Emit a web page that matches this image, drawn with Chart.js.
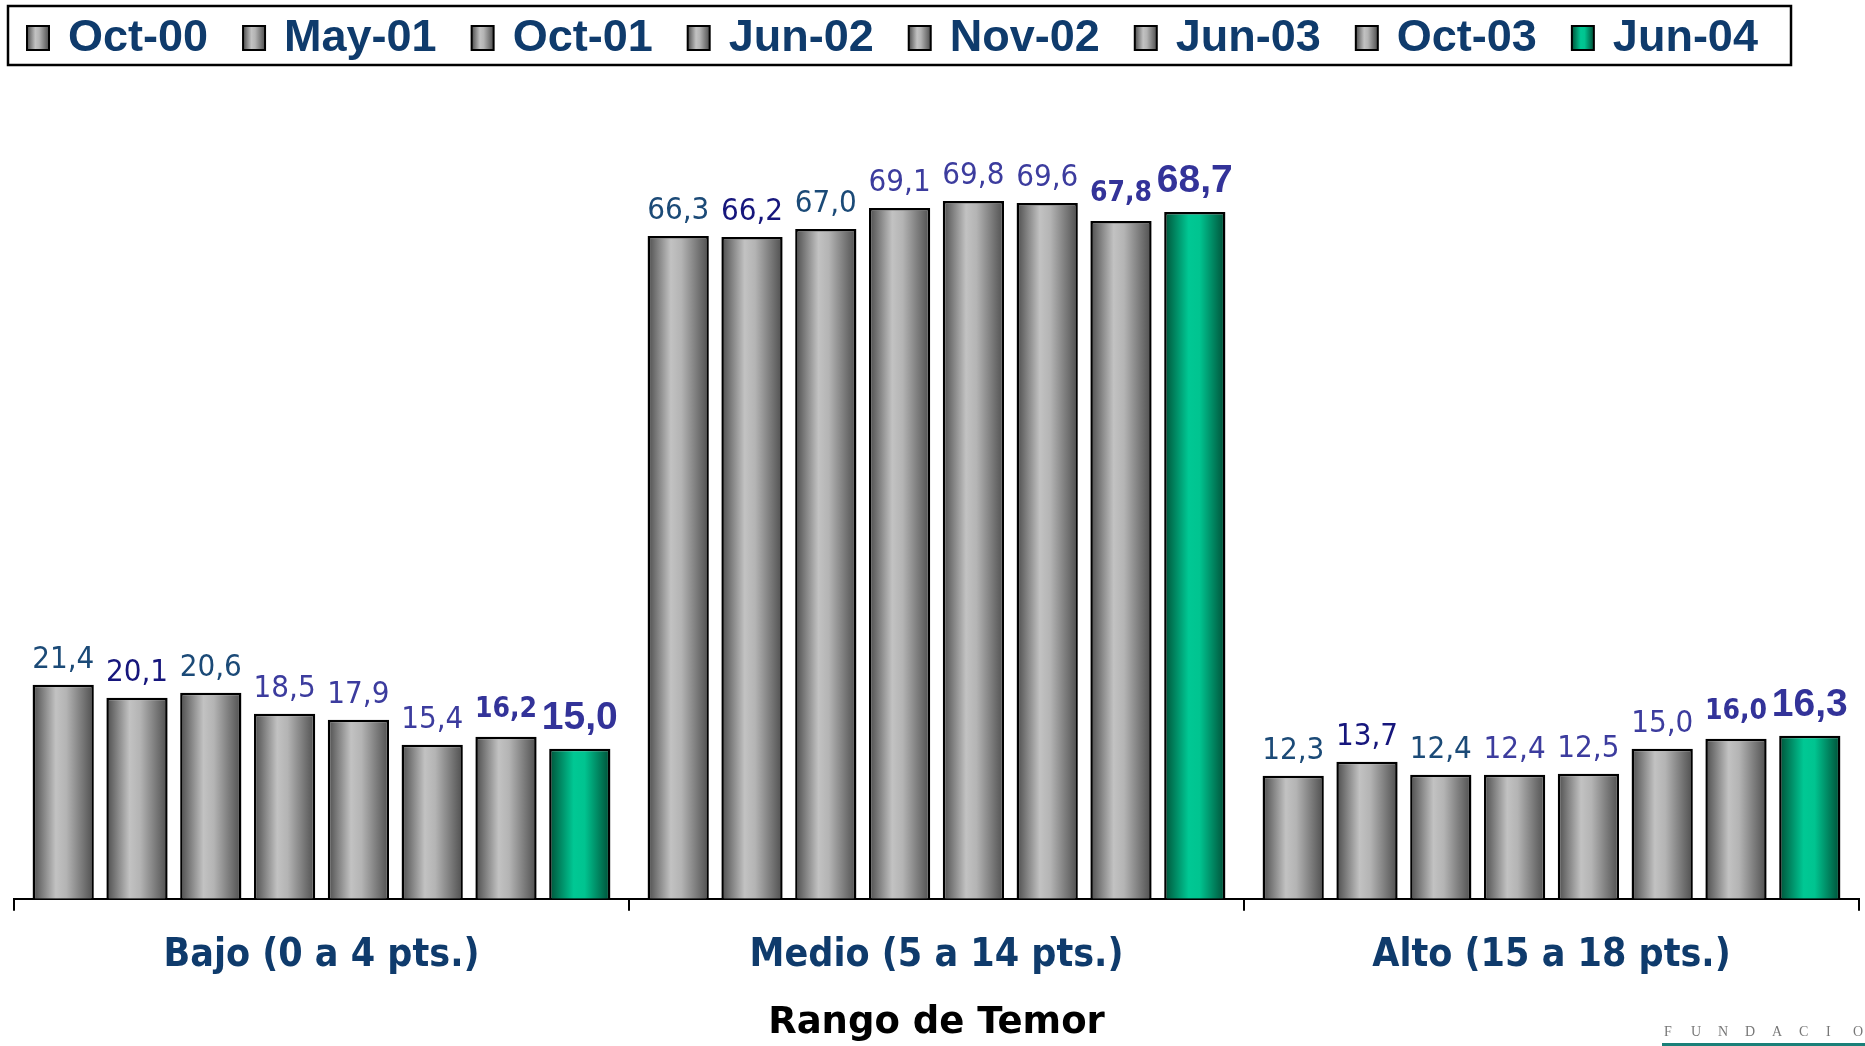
<!DOCTYPE html>
<html lang="es">
<head>
    <meta charset="UTF-8">
    <title>Rango de Temor</title>
    <script src="https://cdn.jsdelivr.net/npm/chart.js"></script>
    <style>
        html, body {
            margin: 0;
            padding: 0;
            background: #fff;
            overflow: hidden;
        }
        canvas {
            display: block;
        }
    </style>
</head>
<body>
    <canvas id="temorChart" width="1865" height="1046"></canvas>
    <script>
        // categorias y periodos
        const categories = ['Bajo (0 a 4 pts.)', 'Medio (5 a 14 pts.)', 'Alto (15 a 18 pts.)'];
        const periods = ['Oct-00', 'May-01', 'Oct-01', 'Jun-02', 'Nov-02', 'Jun-03', 'Oct-03', 'Jun-04'];

        // valores por periodo (Bajo, Medio, Alto)
        const oct00 = [21.4, 66.3, 12.3];
        const may01 = [20.1, 66.2, 13.7];
        const oct01 = [20.6, 67.0, 12.4];
        const jun02 = [18.5, 69.1, 12.4];
        const nov02 = [17.9, 69.8, 12.5];
        const jun03 = [15.4, 69.6, 15.0];
        const oct03 = [16.2, 67.8, 16.0];
        const jun04 = [15.0, 68.7, 16.3];
        const seriesValues = [oct00, may01, oct01, jun02, nov02, jun03, oct03, jun04];

        const COND = '"DejaVu Sans Condensed", sans-serif';
        const navy = '#0f3b6c';

        // estilo de las etiquetas de valor de cada serie
        const labelStyles = [
            { color: '#1b4a77', weight: 'normal', size: 31, family: COND, gap: 17 },
            { color: '#16167c', weight: 'normal', size: 31, family: COND, gap: 17 },
            { color: '#1b4a77', weight: 'normal', size: 31, family: COND, gap: 17 },
            { color: '#3c3c9e', weight: 'normal', size: 31, family: COND, gap: 17 },
            { color: '#3c3c9e', weight: 'normal', size: 31, family: COND, gap: 17 },
            { color: '#3c3c9e', weight: 'normal', size: 31, family: COND, gap: 17 },
            { color: '#333399', weight: 'bold', size: 28, family: COND, gap: 20 },
            { color: '#333399', weight: 'bold', size: 39, family: '"Liberation Sans", Arial, sans-serif', gap: 20 }
        ];

        const grayStops = [[0, '#4c4c4c'], [0.38, '#c2c2c2'], [0.55, '#b4b4b4'], [1, '#4e4e4e']];
        const greenStops = [[0, '#005238'], [0.4, '#00c894'], [0.58, '#00c490'], [1, '#004e36']];

        function makeGrad(ctx, x0, x1, stops) {
            const g = ctx.createLinearGradient(x0, 0, x1, 0);
            stops.forEach(s => g.addColorStop(s[0], s[1]));
            return g;
        }

        // degradado tipo cilindro en cada barra
        const cylinderPlugin = {
            id: 'cylinder',
            beforeDatasetsDraw(chart) {
                const ctx = chart.ctx;
                chart.data.datasets.forEach((ds, di) => {
                    const stops = di === 7 ? greenStops : grayStops;
                    chart.getDatasetMeta(di).data.forEach(el => {
                        const half = el.width / 2;
                        el.options.backgroundColor = makeGrad(ctx, el.x - half, el.x + half, stops);
                    });
                });
            }
        };

        // etiquetas de valor encima de las barras
        const valueLabels = {
            id: 'valueLabels',
            afterDatasetsDraw(chart) {
                const ctx = chart.ctx;
                ctx.save();
                ctx.textAlign = 'center';
                ctx.textBaseline = 'alphabetic';
                chart.data.datasets.forEach((ds, di) => {
                    const st = labelStyles[di];
                    ctx.font = st.weight + ' ' + st.size + 'px ' + st.family;
                    ctx.fillStyle = st.color;
                    chart.getDatasetMeta(di).data.forEach((el, i) => {
                        const txt = ds.data[i].toFixed(1).replace('.', ',');
                        ctx.fillText(txt, el.x, el.y - st.gap);
                    });
                });
                ctx.restore();
            }
        };

        // leyenda con marco
        const boxLegend = {
            id: 'boxLegend',
            afterDraw(chart) {
                const ctx = chart.ctx;
                ctx.save();
                ctx.lineWidth = 2.5;
                ctx.strokeStyle = '#000';
                ctx.strokeRect(8, 6, 1783, 59);
                ctx.font = 'bold 45px "Liberation Sans", Arial, sans-serif';
                ctx.textBaseline = 'middle';
                let x = 27;
                chart.data.datasets.forEach((ds, di) => {
                    const stops = di === 7 ? greenStops : grayStops;
                    ctx.fillStyle = makeGrad(ctx, x, x + 22, stops);
                    ctx.fillRect(x, 26, 22, 24);
                    ctx.lineWidth = 2;
                    ctx.strokeRect(x, 26, 22, 24);
                    ctx.fillStyle = navy;
                    ctx.fillText(ds.label, x + 41, 39);
                    x += 41 + ctx.measureText(ds.label).width + 35;
                });
                // pie de pagina
                ctx.font = '14px "Liberation Serif", serif';
                ctx.fillStyle = '#777';
                ctx.textBaseline = 'alphabetic';
                const letters = 'FUNDACIO'.split('');
                letters.forEach((ch, i) => ctx.fillText(ch, 1664 + i * 27, 1036));
                ctx.fillStyle = '#1a7f78';
                ctx.fillRect(1662, 1043, 203, 3);
                ctx.restore();
            }
        };

        const datasets = periods.map((p, i) => ({
            label: p,
            data: seriesValues[i],
            backgroundColor: () => '#999',
            borderColor: '#000',
            borderWidth: 2.5,
            borderSkipped: 'bottom',
            categoryPercentage: 0.96,
            barPercentage: 0.83
        }));

        const ctx = document.getElementById('temorChart').getContext('2d');
        const temorChart = new Chart(ctx, {
            type: 'bar',
            data: {
                labels: categories,
                datasets: datasets
            },
            options: {
                responsive: false,
                animation: false,
                devicePixelRatio: 1,
                layout: {
                    padding: { top: 99, left: 14, right: 6, bottom: 0 }
                },
                plugins: {
                    legend: { display: false },
                    tooltip: { enabled: false }
                },
                scales: {
                    x: {
                        grid: {
                            display: true,
                            offset: true,
                            drawOnChartArea: false,
                            drawTicks: true,
                            tickLength: 12,
                            color: '#000',
                            lineWidth: 2
                        },
                        border: { display: true, color: '#000', width: 2 },
                        ticks: {
                            color: navy,
                            padding: 22,
                            font: { family: COND, size: 39, weight: 'bold' }
                        },
                        title: {
                            display: true,
                            text: 'Rango de Temor',
                            color: '#000',
                            padding: { top: 0, bottom: 0 },
                            font: { family: '"DejaVu Sans", sans-serif', size: 37, weight: 'bold' }
                        }
                    },
                    y: {
                        display: false,
                        min: 0,
                        max: 80
                    }
                }
            },
            plugins: [cylinderPlugin, valueLabels, boxLegend]
        });
    </script>
</body>
</html>
